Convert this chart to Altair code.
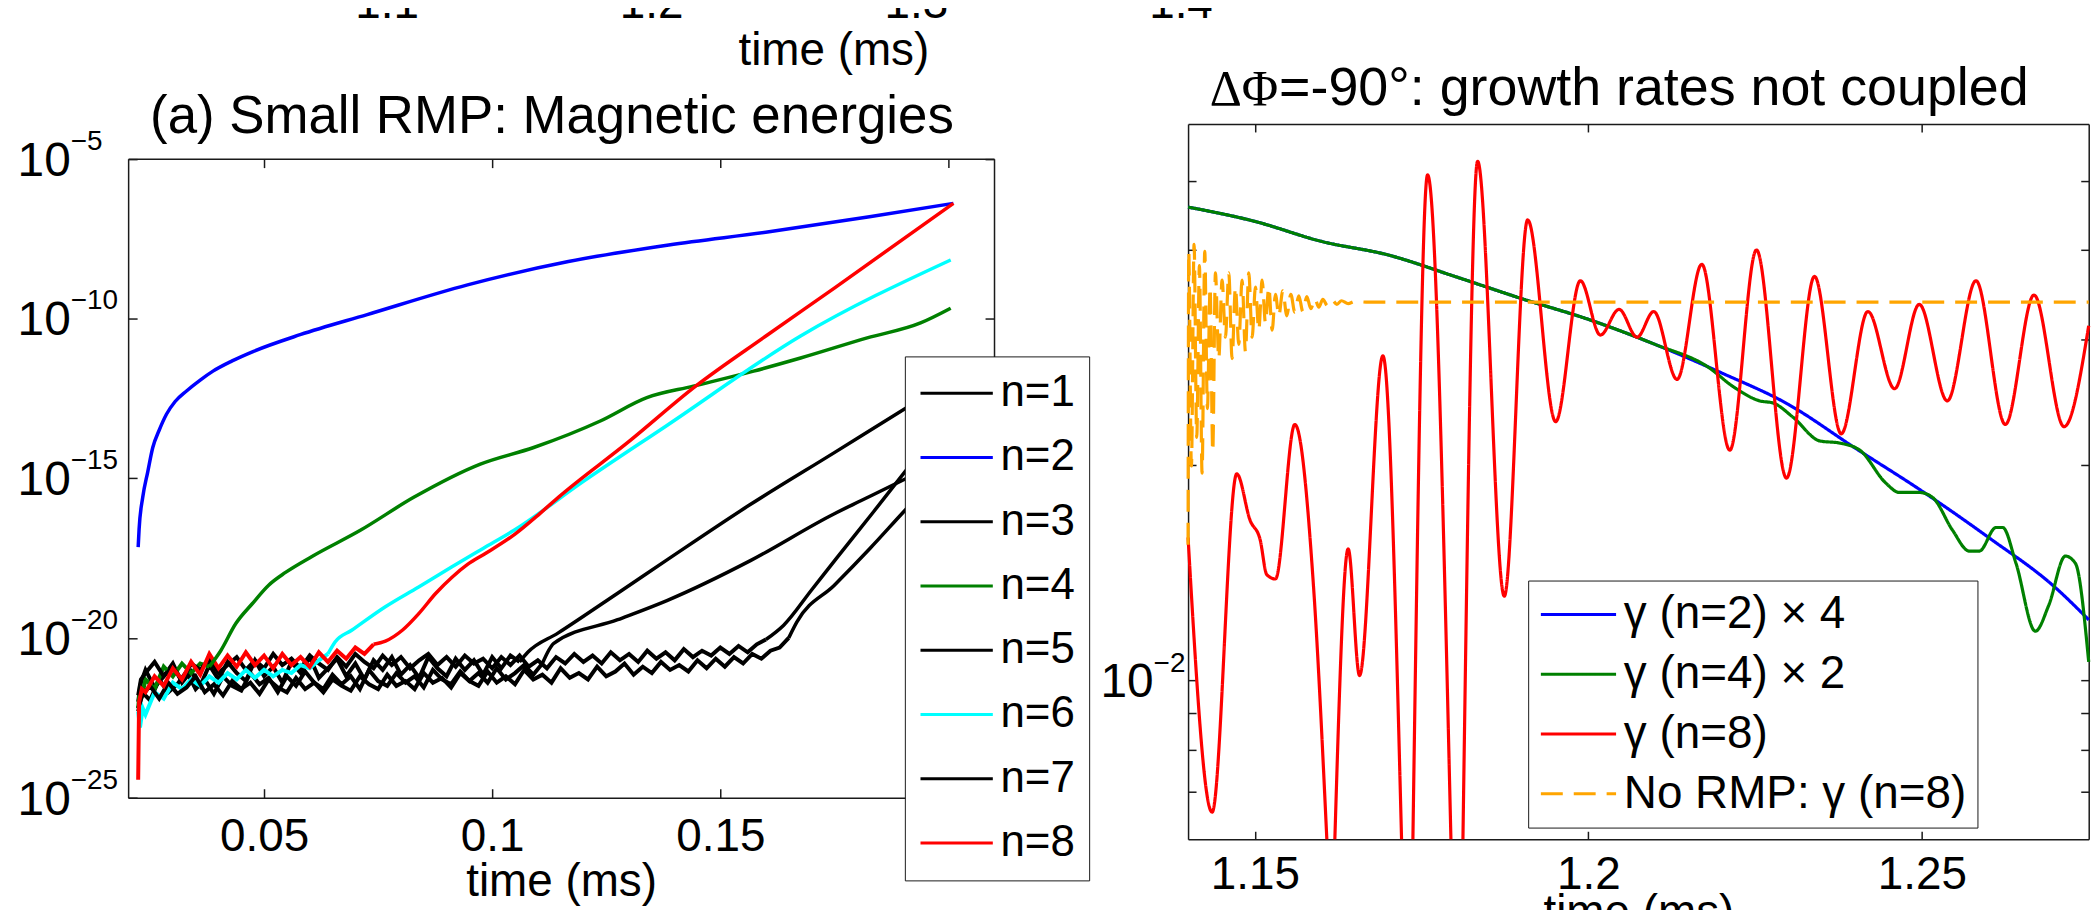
import altair as alt
import pandas as pd

FONT = "Liberation Sans"
SERIF = "Liberation Serif"
FRAME = "#1a1a1a"
W, H = 2092, 902

# ---------------- left panel: magnetic energies ----------------
L_NAMES = ["n=1", "n=2", "n=3", "n=4", "n=5", "n=6", "n=7", "n=8"]
L_COLORS = ["#000000", "#0000ff", "#000000", "#008000", "#000000", "#00ffff", "#000000", "#ff0000"]
L_XTICKS = [0.05, 0.1, 0.15, 0.2]
L_YTICKS = [1e-25, 1e-20, 1e-15, 1e-10, 1e-5]
L_YLAB = ["10", "10", "10", "10", "10"]
L_YEXP = ["\u221225", "\u221220", "\u221215", "\u221210", "\u22125"]

# time samples of the noisy band (ms): two interleaved sets
TG = [0.0224, 0.0230, 0.024, 0.026, 0.028, 0.030, 0.032, 0.034, 0.036, 0.038,
      0.040, 0.042, 0.044, 0.046, 0.048, 0.050, 0.052, 0.054, 0.056, 0.058,
      0.060, 0.062, 0.064, 0.066, 0.068, 0.070, 0.072, 0.074, 0.076, 0.078,
      0.080, 0.082, 0.084, 0.086, 0.088, 0.090, 0.092, 0.094, 0.096, 0.098,
      0.100, 0.102, 0.104, 0.106, 0.108, 0.110, 0.112, 0.114, 0.116, 0.118,
      0.120, 0.122, 0.124, 0.126, 0.128, 0.130, 0.132, 0.134, 0.136, 0.138,
      0.140, 0.142, 0.144, 0.146, 0.148, 0.150, 0.152, 0.154, 0.156, 0.158,
      0.160, 0.162, 0.164, 0.166]
TG2 = [0.0224, 0.0233, 0.025, 0.027, 0.029, 0.031, 0.033, 0.035, 0.037, 0.039,
       0.041, 0.043, 0.045, 0.047, 0.049, 0.051, 0.053, 0.055, 0.057, 0.059,
       0.061, 0.063, 0.065, 0.067, 0.069, 0.071, 0.073, 0.075, 0.077, 0.079,
       0.081, 0.083, 0.085, 0.087, 0.089, 0.091, 0.093, 0.095, 0.097, 0.099,
       0.101, 0.103, 0.105, 0.107, 0.109, 0.111, 0.113, 0.115, 0.117, 0.119,
       0.121, 0.123, 0.125, 0.127, 0.129, 0.131, 0.133, 0.135, 0.137, 0.139,
       0.141, 0.143, 0.145, 0.147, 0.149, 0.151, 0.153, 0.155, 0.157, 0.159,
       0.161, 0.163, 0.165, 0.167]

# log10 of the energies
N1_BAND = [-22.0, -21.4, -21.0, -21.55, -21.2, -20.8, -21.4, -21.05, -21.5, -20.85,
           -21.3, -20.75, -21.1, -21.35, -20.7, -21.2, -20.9, -21.4, -20.75, -21.1,
           -20.6, -21.25, -20.95, -20.65, -21.2, -20.8, -21.3, -20.7, -21.0, -20.6,
           -21.15, -20.85, -21.25, -20.6, -20.95, -21.2, -20.65, -21.0, -20.7, -21.15,
           -20.6, -20.95, -20.55, -20.75]
N1_RISE_T = [0.1078, 0.1144, 0.1275, 0.1384, 0.1563, 0.1750, 0.1902, 0.2011]
N1_RISE_V = [-20.45, -19.85, -18.6, -17.55, -15.85, -14.2, -12.85, -11.9]

N2_T = [0.0224, 0.0226, 0.0234, 0.0245, 0.0256, 0.0270, 0.0286, 0.0305, 0.0330, 0.0360,
        0.0388, 0.0430, 0.0477, 0.0579, 0.0726, 0.0946, 0.1167, 0.1387, 0.1607, 0.1827, 0.2011]
N2_V = [-17.16, -16.6, -15.6, -14.8, -14.04, -13.5, -13.0, -12.6, -12.27, -11.93,
        -11.65, -11.33, -11.03, -10.51, -9.88, -8.95, -8.22, -7.70, -7.29, -6.82, -6.40]

N3_BAND = [-22.3, -21.7, -21.95, -21.3, -21.7, -21.45, -21.05, -21.6, -21.3, -21.75,
           -21.2, -21.5, -21.65, -21.1, -21.45, -21.25, -21.7, -21.2, -21.5, -21.05,
           -21.4, -21.6, -21.15, -21.45, -21.2, -21.6, -21.0, -21.35, -21.5, -21.1,
           -21.4, -21.2, -21.55, -21.0, -21.3, -21.45, -21.05, -21.35, -21.1, -21.4,
           -20.95, -21.3, -21.1, -20.85, -21.15, -20.8]
N3_RISE_T = [0.1135, 0.1275, 0.1383, 0.1566, 0.1749, 0.1809, 0.1902, 0.2011]
N3_RISE_V = [-20.17, -19.43, -18.83, -17.58, -16.12, -15.70, -15.05, -14.3]

N4_T = [0.0224, 0.0228, 0.0234, 0.024, 0.026, 0.028, 0.030, 0.032, 0.034, 0.036,
        0.038, 0.0405, 0.0438, 0.0474, 0.0510, 0.0547, 0.0605, 0.0710, 0.0828, 0.0974,
        0.1091, 0.1237, 0.1339, 0.1441, 0.1573, 0.1676, 0.1822, 0.1939, 0.2005]
N4_V = [-22.2, -21.5, -21.7, -21.3, -21.6, -20.9, -21.2, -20.8, -21.1, -20.8,
        -20.9, -20.4, -19.55, -18.93, -18.35, -17.95, -17.45, -16.64, -15.60, -14.56,
        -14.04, -13.21, -12.48, -12.12, -11.65, -11.24, -10.61, -10.14, -9.68]
N4_SPLIT = 10  # noisy up to this sample, smooth from it

N5_BAND = [-21.8, -21.3, -21.1, -20.75, -21.2, -20.9, -21.35, -20.8, -21.0, -20.65,
           -21.1, -20.85, -20.6, -21.0, -20.7, -20.95, -20.5, -20.85, -20.65, -20.95,
           -20.55, -20.8, -21.0, -20.6, -20.9, -20.5, -20.75, -20.95, -20.55, -20.85,
           -20.6, -20.95, -20.7, -20.5, -20.85, -20.6, -20.9, -20.55, -20.8, -20.65,
           -20.95, -20.6, -20.85, -20.55, -20.9, -20.7, -20.95, -20.6, -20.8, -20.5,
           -20.75, -20.55, -20.8, -20.45, -20.7, -20.5, -20.75, -20.4, -20.65, -20.45,
           -20.7, -20.35, -20.6, -20.4, -20.55, -20.3, -20.5, -20.25, -20.45, -20.2,
           -20.05]
N5_RISE_T = [0.1639, 0.1700, 0.1755, 0.1836, 0.1902, 0.2011]
N5_RISE_V = [-19.6, -18.5, -17.5, -16.05, -14.85, -12.9]

N6_T = [0.0224, 0.0228, 0.0234, 0.024, 0.026, 0.028, 0.030, 0.032, 0.034, 0.036,
        0.038, 0.040, 0.042, 0.044, 0.046, 0.048, 0.050, 0.052, 0.054, 0.056,
        0.058, 0.060, 0.062, 0.064, 0.0656, 0.0692, 0.0765, 0.0838, 0.0911, 0.0980,
        0.1047, 0.1200, 0.1383, 0.1676, 0.2005]
N6_V = [-22.3, -22.8, -22.2, -22.4, -21.7, -21.9, -21.4, -21.6, -21.3, -21.5,
        -21.2, -21.4, -21.1, -21.3, -21.0, -21.25, -21.0, -21.2, -21.0, -21.1,
        -20.85, -20.95, -20.7, -20.5, -20.12, -19.76, -19.03, -18.41, -17.78, -17.2,
        -16.64, -15.1, -13.35, -10.55, -8.17]
N6_SPLIT = 23

N7_BAND = [-22.2, -21.8, -21.5, -21.9, -21.4, -21.75, -21.55, -21.2, -21.7, -21.45,
           -21.8, -21.35, -21.6, -21.4, -21.75, -21.3, -21.55, -21.7, -21.25, -21.6,
           -21.4, -21.7, -21.3, -21.5, -21.65, -21.2, -21.45, -21.6, -21.15, -21.5,
           -21.35, -21.6, -21.1, -21.4, -21.25, -21.55, -21.1, -21.35, -21.5, -21.05,
           -21.4, -21.2, -21.45, -21.0, -21.3, -21.15, -21.4, -20.95, -21.25, -21.1,
           -21.3, -20.9, -21.2, -21.05, -20.8, -21.15, -20.9, -21.1, -20.75, -21.0,
           -20.85, -21.05, -20.7, -20.95, -20.65, -20.9, -20.6, -20.8, -20.5, -20.65,
           -20.4, -20.3, -20.0]
N7_RISE_T = [0.1668, 0.1750, 0.1828, 0.1902, 0.2011]
N7_RISE_V = [-19.5, -18.35, -17.2, -16.05, -14.4]

N8_T = [0.0224, 0.0226, 0.0232, 0.024, 0.026, 0.028, 0.030, 0.032, 0.034, 0.036,
        0.038, 0.040, 0.042, 0.044, 0.046, 0.048, 0.050, 0.052, 0.054, 0.056,
        0.058, 0.060, 0.062, 0.064, 0.066, 0.068, 0.070, 0.072, 0.074, 0.0766,
        0.0803, 0.0839, 0.0876, 0.0912, 0.0946, 0.0986, 0.1050, 0.1105, 0.1145, 0.1300,
        0.1446, 0.1600, 0.1750, 0.2011]
N8_V = [-24.44, -22.0, -21.6, -21.7, -21.2, -21.5, -20.95, -21.3, -20.75, -21.15,
        -20.5, -20.95, -20.55, -20.9, -20.45, -20.85, -20.55, -20.95, -20.5, -20.85,
        -20.6, -20.9, -20.45, -20.75, -20.4, -20.65, -20.3, -20.5, -20.2, -20.1,
        -19.76, -19.24, -18.61, -18.10, -17.7, -17.35, -16.75, -16.1, -15.6, -13.85,
        -12.12, -10.55, -9.05, -6.40]
N8_SPLIT = 28

# ---------------- right panel: growth rates ----------------
R_NAMES = ["\u03b3 (n=2) \u00d7 4", "\u03b3 (n=4) \u00d7 2", "\u03b3 (n=8)", "No RMP: \u03b3 (n=8)"]
R_COLORS = ["#0000ff", "#008000", "#ff0000", "#ffa500"]
R_DASHES = [[1, 0], [1, 0], [1, 0], [22, 11]]
R_XTICKS = [1.15, 1.2, 1.25]
R_YTICKS = [0.007, 0.008, 0.009, 0.01, 0.02, 0.03, 0.04, 0.05]

BLUE_T = [1.1400, 1.1500, 1.1600, 1.1700, 1.1800, 1.1900, 1.2000, 1.2100, 1.2200, 1.2300,
          1.2400, 1.2500, 1.2600, 1.2700, 1.2750]
BLUE_V = [-1.338, -1.358, -1.386, -1.405, -1.435, -1.466, -1.495, -1.530, -1.570, -1.614,
          -1.675, -1.735, -1.800, -1.870, -1.915]

GREEN_T = [1.1400, 1.1500, 1.1600, 1.1700, 1.1800, 1.1900, 1.2000, 1.2100, 1.2180, 1.2217,
           1.2257, 1.2277, 1.2307, 1.2347, 1.2377, 1.2407, 1.2446, 1.2466, 1.2496, 1.2516,
           1.2546, 1.2571, 1.2586, 1.2611, 1.2621, 1.2641, 1.2670, 1.2690, 1.2715, 1.2730, 1.2750]
GREEN_V = [-1.338, -1.358, -1.386, -1.405, -1.435, -1.466, -1.495, -1.530, -1.562, -1.589,
           -1.609, -1.612, -1.632, -1.665, -1.668, -1.678, -1.724, -1.737, -1.737, -1.744,
           -1.790, -1.819, -1.819, -1.786, -1.786, -1.836, -1.931, -1.895, -1.826, -1.836, -1.974]

# red curve pieces between the places where it leaves the frame at the bottom
RED1_T = [1.1400, 1.1436, 1.1473, 1.1493, 1.1508, 1.1518, 1.1531, 1.1560, 1.1588, 1.1608]
RED1_V = [-1.80, -2.184, -1.711, -1.776, -1.803, -1.852, -1.858, -1.642, -1.868, -2.222]
RED2_T = [1.1620, 1.1640, 1.1657, 1.1692, 1.1720]
RED2_V = [-2.222, -1.816, -1.993, -1.546, -2.222]
RED3_T = [1.1737, 1.1759, 1.1794]
RED3_V = [-2.222, -1.293, -2.222]
RED4_T = [1.1812, 1.1834, 1.1874, 1.1909, 1.1951, 1.1988, 1.2018, 1.2046, 1.2073, 1.2098,
          1.2133, 1.2170, 1.2212, 1.2252, 1.2297, 1.2339, 1.2379, 1.2419, 1.2459, 1.2496,
          1.2538, 1.2581, 1.2625, 1.2668, 1.2713, 1.2750]
RED4_V = [-2.222, -1.274, -1.882, -1.356, -1.638, -1.441, -1.517, -1.481, -1.520, -1.484,
          -1.579, -1.418, -1.678, -1.398, -1.717, -1.435, -1.655, -1.484, -1.592, -1.474,
          -1.609, -1.441, -1.642, -1.461, -1.645, -1.504]

ORANGE_T = [1.14000, 1.14010, 1.14050, 1.14090, 1.14130, 1.14170, 1.14210, 1.14250, 1.14290, 1.14330,
            1.14370, 1.14410, 1.14460, 1.14510, 1.14560, 1.14610, 1.14660, 1.14710, 1.14760, 1.14810,
            1.14860, 1.14910, 1.14960, 1.15010, 1.15060, 1.15110, 1.15160, 1.15210, 1.15260, 1.15310,
            1.15360, 1.15420, 1.15480, 1.15540, 1.15600, 1.15660, 1.15720, 1.15780, 1.15840, 1.15900,
            1.15960, 1.16020, 1.16090, 1.16160, 1.16230, 1.16300, 1.16400, 1.16500, 1.16700, 1.27500]
ORANGE_V = [-1.81, -1.40, -1.70, -1.39, -1.66, -1.42, -1.71, -1.40, -1.62, -1.45,
            -1.68, -1.43, -1.55, -1.44, -1.52, -1.43, -1.55, -1.45, -1.53, -1.44,
            -1.54, -1.43, -1.52, -1.45, -1.51, -1.44, -1.50, -1.45, -1.51, -1.46,
            -1.49, -1.455, -1.49, -1.46, -1.485, -1.462, -1.484, -1.463, -1.48, -1.466,
            -1.478, -1.467, -1.476, -1.468, -1.474, -1.469, -1.473, -1.470, -1.471, -1.471]

# texts
TITLE_L = "(a) Small RMP: Magnetic energies"
TITLE_R_SYM = "\u0394\u03a6"
TITLE_R_TXT = "=-90\u00b0: growth rates not coupled"
TOP_T = [1.1, 1.2, 1.3, 1.4]
TOP_LAB = ["1.1", "1.2", "1.3", "1.4"]


# ---------------- tables ----------------
def add(rows, name, ts, vs, seg=None):
    for t, v in zip(ts, vs):
        rows.append({"t": t, "E": 10.0 ** v, "n": name, "seg": seg if seg else name})


# noisy stretches (drawn with straight segments) and smooth stretches (drawn curved)
noisy, smooth = [], []
b1 = TG[:len(N1_BAND)]
add(noisy, "n=1", b1, N1_BAND)
add(smooth, "n=1", b1[-1:] + N1_RISE_T, N1_BAND[-1:] + N1_RISE_V)
add(smooth, "n=2", N2_T, N2_V)
b3 = TG2[:len(N3_BAND)]
add(noisy, "n=3", b3, N3_BAND)
add(smooth, "n=3", b3[-1:] + N3_RISE_T, N3_BAND[-1:] + N3_RISE_V)
add(noisy, "n=4", N4_T[:N4_SPLIT + 1], N4_V[:N4_SPLIT + 1])
add(smooth, "n=4", N4_T[N4_SPLIT:], N4_V[N4_SPLIT:])
b5 = TG[:len(N5_BAND)]
add(noisy, "n=5", b5, N5_BAND)
add(smooth, "n=5", b5[-1:] + N5_RISE_T, N5_BAND[-1:] + N5_RISE_V)
add(noisy, "n=6", N6_T[:N6_SPLIT + 1], N6_V[:N6_SPLIT + 1])
add(smooth, "n=6", N6_T[N6_SPLIT:], N6_V[N6_SPLIT:])
b7 = TG2[:len(N7_BAND)]
add(noisy, "n=7", b7, N7_BAND)
add(smooth, "n=7", b7[-1:] + N7_RISE_T, N7_BAND[-1:] + N7_RISE_V)
add(noisy, "n=8", N8_T[:N8_SPLIT + 1], N8_V[:N8_SPLIT + 1])
add(smooth, "n=8", N8_T[N8_SPLIT:], N8_V[N8_SPLIT:])
noisy_df = pd.DataFrame(noisy)
smooth_df = pd.DataFrame(smooth)

right_rows = []
add(right_rows, R_NAMES[0], BLUE_T, BLUE_V, "b")
add(right_rows, R_NAMES[1], GREEN_T, GREEN_V, "g")
add(right_rows, R_NAMES[2], RED1_T, RED1_V, "r1")
add(right_rows, R_NAMES[2], RED2_T, RED2_V, "r2")
add(right_rows, R_NAMES[2], RED3_T, RED3_V, "r3")
add(right_rows, R_NAMES[2], RED4_T, RED4_V, "r4")
add(right_rows, R_NAMES[3], ORANGE_T, ORANGE_V, "o")
right_df = pd.DataFrame(right_rows)

# ---------------- scales ----------------
LX = alt.Scale(domain=[0.0202, 0.21], range=[120.6, 989.8], nice=False, zero=False)
LY = alt.Scale(type="log", domain=[1e-25, 1e-5], range=[791, 149.5], nice=False)
RX = alt.Scale(domain=[1.14, 1.275], range=[1184.6, 2088.7], nice=False, zero=False)
RY = alt.Scale(type="log", domain=[0.006, 0.06], range=[832.7, 114.7], nice=False, clamp=True)
LC = alt.Scale(domain=L_NAMES, range=L_COLORS)


def ax(orient, offset, values=None, domain=False, ticks=False, tick_size=0, labels=False, **kw):
    d = dict(orient=orient, offset=offset, domain=domain, ticks=ticks, labels=labels, grid=False,
             title=None, domainColor=FRAME, domainWidth=1.5, tickColor=FRAME, tickWidth=1.5,
             tickSize=tick_size)
    if values is not None:
        d["values"] = values
    d.update(kw)
    return alt.Axis(**d)


def label_axis(orient, offset, values, label_pad, title_y):
    return ax(orient, offset, values=values, domain=True, labels=True, format="~g",
              labelFont=FONT, labelFontSize=46, labelColor="black", labelBaseline="alphabetic",
              labelPadding=label_pad, labelFlush=False, labelOverlap=False,
              title="time (ms)", titleFont=FONT, titleFontSize=46, titleFontWeight="normal",
              titleColor="black", titleBaseline="alphabetic", titleY=title_y)


def legend(x, y, size, font_size, row_pad, pad):
    return alt.Legend(orient="none", legendX=x, legendY=y, title=None, direction="vertical",
                      fillColor="white", strokeColor=FRAME, padding=pad, symbolType="stroke",
                      symbolSize=size, symbolStrokeWidth=3, labelFont=FONT,
                      labelFontSize=font_size, labelColor="black", labelOffset=6,
                      rowPadding=row_pad, clipHeight=46, labelLimit=800)


# ---------------- left panel layers ----------------
leg_L = legend(900.3, 348, 5270, 44, 18.5, 14)
lines_L_noisy = alt.Chart(noisy_df).mark_line(strokeWidth=4, interpolate="linear").encode(
    x=alt.X("t:Q", scale=LX, axis=label_axis("bottom", 791 - H, L_XTICKS, 53, 98)),
    y=alt.Y("E:Q", scale=LY, axis=ax("left", -120.6, domain=True)),
    color=alt.Color("n:N", scale=LC, legend=leg_L),
    detail="seg:N",
)
lines_L_smooth = alt.Chart(smooth_df).mark_line(strokeWidth=3.5, interpolate="monotone").encode(
    x=alt.X("t:Q", scale=LX, axis=None),
    y=alt.Y("E:Q", scale=LY, axis=None),
    color=alt.Color("n:N", scale=LC, legend=None),
    detail="seg:N",
)

frame_L_df = pd.DataFrame({"t": [0.0202, 0.21], "E": [1e-25, 1e-5]})
frame_L1 = alt.Chart(frame_L_df).mark_point(opacity=0).encode(
    x=alt.X("t:Q", scale=LX, axis=ax("top", -791, values=L_XTICKS, ticks=True, tick_size=9)),
    y=alt.Y("E:Q", scale=LY, axis=ax("right", 120.6 - W, values=L_YTICKS, ticks=True, tick_size=9)),
)
frame_L2 = alt.Chart(frame_L_df).mark_point(opacity=0).encode(
    x=alt.X("t:Q", scale=LX, axis=ax("bottom", 149.5 - H, values=L_XTICKS, domain=True, ticks=True, tick_size=9)),
    y=alt.Y("E:Q", scale=LY, axis=ax("left", -989.8, values=L_YTICKS, domain=True, ticks=True, tick_size=9)),
)

ylab_L_df = pd.DataFrame({"E": L_YTICKS, "b": L_YLAB, "e": L_YEXP})
ylab_L = alt.Chart(ylab_L_df).mark_text(
    align="right", baseline="alphabetic", dy=17, font=FONT, fontSize=48, color="black"
).encode(x=alt.value(63), y=alt.Y("E:Q", scale=LY, axis=None), text="b:N")
yexp_L = alt.Chart(ylab_L_df).mark_text(
    align="left", baseline="alphabetic", dy=-9, font=FONT, fontSize=28, color="black"
).encode(x=alt.value(63), y=alt.Y("E:Q", scale=LY, axis=None), text="e:N")

# ---------------- right panel layers ----------------
leg_R = legend(1526, 573, 5700, 46, 14, 11)
lines_R = alt.Chart(right_df).mark_line(strokeWidth=3.2, interpolate="monotone").encode(
    x=alt.X("t:Q", scale=RX, axis=label_axis("bottom", 832.7 - H, R_XTICKS, 49, 88)),
    y=alt.Y("E:Q", scale=RY, axis=ax("left", -1184.6, domain=True)),
    color=alt.Color("n:N", scale=alt.Scale(domain=R_NAMES, range=R_COLORS), legend=leg_R),
    strokeDash=alt.StrokeDash("n:N", scale=alt.Scale(domain=R_NAMES, range=R_DASHES), legend=leg_R),
    detail="seg:N",
)

frame_R_df = pd.DataFrame({"t": [1.14, 1.275], "E": [0.006, 0.06]})
frame_R1 = alt.Chart(frame_R_df).mark_point(opacity=0).encode(
    x=alt.X("t:Q", scale=RX, axis=ax("top", -832.7, values=R_XTICKS, ticks=True, tick_size=8)),
    y=alt.Y("E:Q", scale=RY, axis=ax("right", 1184.6 - W, values=R_YTICKS, ticks=True, tick_size=8)),
)
frame_R2 = alt.Chart(frame_R_df).mark_point(opacity=0).encode(
    x=alt.X("t:Q", scale=RX, axis=ax("bottom", 114.7 - H, values=R_XTICKS, domain=True, ticks=True, tick_size=8)),
    y=alt.Y("E:Q", scale=RY, axis=ax("left", -2088.7, values=R_YTICKS, domain=True, ticks=True, tick_size=8)),
)

ylab_R_df = pd.DataFrame({"E": [0.01], "b": ["10"], "e": ["\u22122"]})
ylab_R = alt.Chart(ylab_R_df).mark_text(
    align="right", baseline="alphabetic", dy=17, font=FONT, fontSize=48, color="black"
).encode(x=alt.value(1150), y=alt.Y("E:Q", scale=RY, axis=None), text="b:N")
yexp_R = alt.Chart(ylab_R_df).mark_text(
    align="left", baseline="alphabetic", dy=-9, font=FONT, fontSize=28, color="black"
).encode(x=alt.value(1150), y=alt.Y("E:Q", scale=RY, axis=None), text="e:N")


# ---------------- titles and the cut-off labels at the top ----------------
def text_at(s, x, y, size, align="center", font=FONT):
    return alt.Chart(pd.DataFrame({"s": [s]})).mark_text(
        align=align, baseline="alphabetic", font=font, fontSize=size, color="black"
    ).encode(x=alt.value(x), y=alt.value(y), text="s:N")


title_L = text_at(TITLE_L, 546, 123.7, 53)
title_R1 = text_at(TITLE_R_SYM, 1275, 95.3, 50, align="right", font=SERIF)
title_R2 = text_at(TITLE_R_TXT, 1276, 95.3, 54, align="left")

top_labels = alt.Chart(pd.DataFrame({"t": TOP_T, "s": TOP_LAB})).mark_text(
    align="center", baseline="alphabetic", font=FONT, fontSize=46, color="black"
).encode(
    x=alt.X("t:Q", scale=alt.Scale(domain=[1.1, 1.4], range=[380.5, 1177.5], nice=False, zero=False), axis=None),
    y=alt.value(8.7),
    text="s:N",
)
top_title = text_at("time (ms)", 829, 55.3, 46)

chart = alt.layer(
    lines_L_noisy, lines_L_smooth, frame_L1, frame_L2, ylab_L, yexp_L,
    lines_R, frame_R1, frame_R2, ylab_R, yexp_R,
    title_L, title_R1, title_R2, top_labels, top_title,
).resolve_scale(
    x="independent", y="independent", color="independent", strokeDash="independent"
).properties(
    width=W, height=H, padding=0, autosize=alt.AutoSizeParams(type="none")
).configure(
    background="white", view=alt.ViewConfig(stroke=None)
)

chart.save("out.html", embed_options={"renderer": "svg", "actions": False})
